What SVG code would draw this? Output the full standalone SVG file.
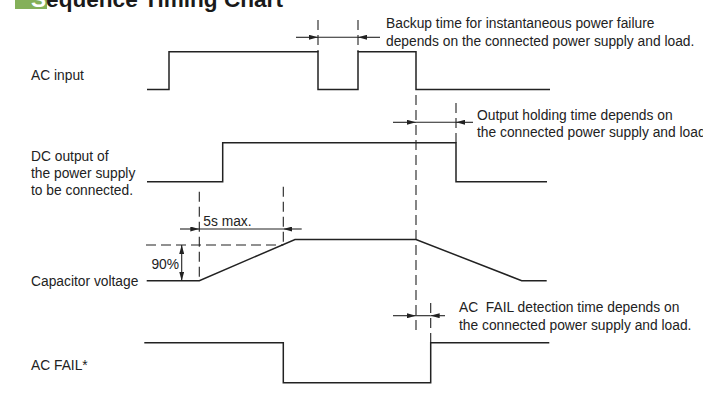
<svg xmlns="http://www.w3.org/2000/svg" width="703" height="393" viewBox="0 0 703 393">
<style>
  text { font-family: "Liberation Sans", Arial, sans-serif; font-size: 13.8px; fill: #222; }
  .title { font-size: 22.6px; font-weight: bold; fill: #1a1a1a; }
  .sig { fill: none; stroke: #222; stroke-width: 1.5; stroke-linejoin: miter; }
  .dash { fill: none; stroke: #222; stroke-width: 1.1; stroke-dasharray: 10 5; }
  .dim { fill: none; stroke: #222; stroke-width: 1.1; }
  .arr { fill: none; stroke: #222; stroke-width: 1.1; marker-end: url(#ah); }
  .pre { white-space: pre; }
</style>
<defs>
  <marker id="ah" viewBox="0 0 9 5" refX="9" refY="2.5" markerWidth="9" markerHeight="5" markerUnits="userSpaceOnUse" orient="auto">
    <path d="M0,0 L9,2.5 L0,5 z" fill="#222"/>
  </marker>
</defs>
<rect width="703" height="393" fill="#ffffff"/>

<g id="title">
  <rect x="15" y="-6" width="32" height="15" fill="#84b05a"/>
  <text class="title" x="31" y="6.5"><tspan fill="#ffffff">S</tspan>equence Timing Chart</text>
</g>

<g id="ac-input">
  <text x="31" y="80">AC input</text>
  <path class="sig" d="M147,89.5 H169 V51.7 H318 V89.5 H358 V51.7 H416 V89.5 H550"/>
</g>

<g id="dc-output">
  <text x="31" y="160.7">DC output of</text>
  <text x="31" y="178">the power supply</text>
  <text x="31" y="195.3">to be connected.</text>
  <path class="sig" d="M147,181.7 H222.7 V142.7 H456 V181.7 H547"/>
</g>

<g id="capacitor-voltage">
  <text x="31" y="285.5">Capacitor voltage</text>
  <path class="sig" d="M146.7,280.7 H199.3 L295,239.5 H416 L521.7,280.7 H546.7"/>
</g>

<g id="ac-fail">
  <text x="31" y="370">AC FAIL*</text>
  <path class="sig" d="M144.3,342.7 H283.3 V382.7 H430.7 V342.7 H549.3"/>
</g>

<g id="note-backup">
  <text x="386" y="28">Backup time for instantaneous power failure</text>
  <text x="386" y="46">depends on the connected power supply and load.</text>
</g>

<g id="note-holding">
  <text x="477" y="119.5">Output holding time depends on</text>
  <text x="477" y="136.7">the connected power supply and load.</text>
</g>

<g id="note-acfail">
  <text class="pre" x="459" y="311.5">AC  FAIL detection time depends on</text>
  <text x="459" y="330">the connected power supply and load.</text>
</g>

<g id="label-5s">
  <text x="203.3" y="225.7">5s max.</text>
</g>

<g id="label-90">
  <text x="179" y="269.3" text-anchor="end">90%</text>
</g>

<g id="connectors">
  <!-- dashed guide lines -->
  <line class="dash" x1="318" y1="20" x2="318" y2="51.7"/>
  <line class="dash" x1="358" y1="20" x2="358" y2="51.7"/>
  <line class="dash" x1="416" y1="95" x2="416" y2="330"/>
  <line class="dash" x1="456" y1="103" x2="456" y2="142.7"/>
  <line class="dash" x1="199.3" y1="191.7" x2="199.3" y2="280.7"/>
  <line class="dash" x1="283.3" y1="186.7" x2="283.3" y2="245"/>
  <line class="dash" x1="430.7" y1="303" x2="430.7" y2="342.7"/>
  <line class="dash" x1="146" y1="245" x2="283.3" y2="245"/>

  <!-- backup time -->
  <line class="dim" x1="318" y1="37.3" x2="358" y2="37.3"/>
  <path class="arr" d="M296,37.3 H318"/>
  <path class="arr" d="M380,37.3 H358"/>

  <!-- output holding time -->
  <line class="dim" x1="416" y1="122.3" x2="456" y2="122.3"/>
  <path class="arr" d="M393,122.3 H416"/>
  <path class="arr" d="M473,122.3 H456"/>

  <!-- 5s max -->
  <line class="dim" x1="199.3" y1="229" x2="283.3" y2="229"/>
  <path class="arr" d="M180,229 H199.3"/>
  <path class="arr" d="M301.7,229 H283.3"/>

  <!-- 90% -->
  <path class="arr" d="M181.7,263 V245"/>
  <path class="arr" d="M181.7,263 V280.7"/>

  <!-- AC FAIL detection -->
  <line class="dim" x1="416" y1="315.7" x2="430.7" y2="315.7"/>
  <path class="arr" d="M393,315.7 H416"/>
  <path class="arr" d="M445,315.7 H430.7"/>
</g>
</svg>
